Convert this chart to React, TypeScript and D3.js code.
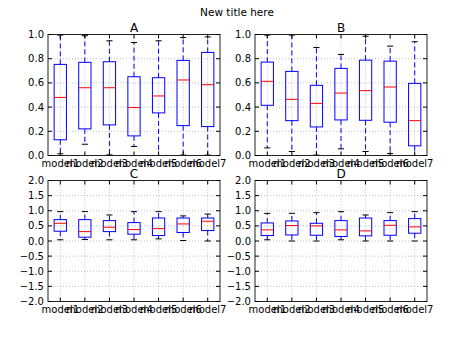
import React, { useEffect, useRef } from "react";
import * as d3 from "d3";

const categories = ["model1", "model2", "model3", "model4", "model5", "model6", "model7"];
const panelTitles = ["A", "B", "C", "D"];
const figTitle = "New title here";

// each entry: [lowerWhisker, q1, median, q3, upperWhisker]
const boxesA = [
  [0.014, 0.13, 0.48, 0.753, 0.995],
  [0.093, 0.22, 0.56, 0.77, 0.99],
  [0.005, 0.253, 0.56, 0.775, 0.948],
  [0.074, 0.162, 0.396, 0.651, 0.934],
  [0.0, 0.352, 0.492, 0.643, 0.948],
  [0.003, 0.247, 0.624, 0.786, 0.975],
  [0.003, 0.239, 0.585, 0.852, 0.98],
];
const boxesB = [
  [0.063, 0.415, 0.613, 0.772, 0.995],
  [0.033, 0.288, 0.464, 0.695, 0.995],
  [0.003, 0.236, 0.431, 0.58, 0.893],
  [0.055, 0.294, 0.516, 0.72, 0.835],
  [0.033, 0.291, 0.536, 0.788, 0.986],
  [0.016, 0.275, 0.566, 0.78, 0.904],
  [0.0, 0.08, 0.288, 0.596, 0.94],
];
const boxesC = [
  [0.04, 0.323, 0.586, 0.707, 0.97],
  [0.05, 0.126, 0.31, 0.707, 0.97],
  [0.04, 0.31, 0.455, 0.674, 0.86],
  [0.04, 0.225, 0.378, 0.608, 0.97],
  [0.07, 0.18, 0.41, 0.76, 0.97],
  [0.016, 0.28, 0.564, 0.76, 0.83],
  [0.0, 0.345, 0.652, 0.76, 0.89],
];
const boxesD = [
  [0.04, 0.18, 0.367, 0.597, 0.915],
  [0.0, 0.2, 0.51, 0.663, 0.915],
  [0.0, 0.19, 0.5, 0.586, 0.937],
  [0.04, 0.148, 0.367, 0.674, 0.97],
  [0.0, 0.17, 0.334, 0.76, 0.86],
  [0.0, 0.19, 0.52, 0.674, 0.937],
  [0.0, 0.257, 0.466, 0.74, 0.97],
];
const ticksTop = [0.0, 0.2, 0.4, 0.6, 0.8, 1.0];
const ticksBottom = [-2.0, -1.5, -1.0, -0.5, 0.0, 0.5, 1.0, 1.5, 2.0];

const W = 474;
const H = 355;
const FONT = "DejaVu Sans, sans-serif";

export default function App() {
  const ref = useRef<SVGSVGElement | null>(null);

  useEffect(() => {
    const svg = d3.select(ref.current);
    svg.selectAll("*").remove();
    svg.append("rect").attr("width", W).attr("height", H).attr("fill", "#fff");

    svg.append("text")
      .attr("x", 237).attr("y", 16)
      .attr("text-anchor", "middle")
      .attr("font-family", FONT).attr("font-size", 10.5)
      .attr("fill", "#000")
      .text(figTitle);

    const panels = [
      { data: boxesA, title: panelTitles[0], x0: 48, x1: 220, y0: 34.5, y1: 155.5, dom: [0, 1], ticks: ticksTop },
      { data: boxesB, title: panelTitles[1], x0: 255, x1: 427, y0: 34.5, y1: 155.5, dom: [0, 1], ticks: ticksTop },
      { data: boxesC, title: panelTitles[2], x0: 48, x1: 220, y0: 180.5, y1: 301.5, dom: [-2, 2], ticks: ticksBottom },
      { data: boxesD, title: panelTitles[3], x0: 255, x1: 427, y0: 180.5, y1: 301.5, dom: [-2, 2], ticks: ticksBottom },
    ];

    panels.forEach((p) => {
      const g = svg.append("g");
      const x = d3.scaleLinear().domain([0.5, categories.length + 0.5]).range([p.x0, p.x1]);
      const y = d3.scaleLinear().domain(p.dom).range([p.y1, p.y0]);
      const pos = categories.map((_, i) => i + 1);

      // grid
      p.ticks.forEach((t) => {
        g.append("line")
          .attr("x1", p.x0).attr("x2", p.x1)
          .attr("y1", y(t)).attr("y2", y(t))
          .attr("stroke", "#000").attr("stroke-opacity", 0.35)
          .attr("stroke-width", 0.7).attr("stroke-dasharray", "1,2");
      });
      pos.forEach((v) => {
        g.append("line")
          .attr("x1", x(v)).attr("x2", x(v))
          .attr("y1", p.y0).attr("y2", p.y1)
          .attr("stroke", "#000").attr("stroke-opacity", 0.35)
          .attr("stroke-width", 0.7).attr("stroke-dasharray", "1,2");
      });

      // boxes
      p.data.forEach((d, i) => {
        const cx = x(pos[i]);
        const bw = x(pos[i] + 0.25) - cx;
        const cw = x(pos[i] + 0.125) - cx;
        const [lo, q1, med, q3, hi] = d;
        g.append("line").attr("x1", cx).attr("x2", cx).attr("y1", y(q3)).attr("y2", y(hi))
          .attr("stroke", "#0000ff").attr("stroke-width", 1).attr("stroke-dasharray", "5,3");
        g.append("line").attr("x1", cx).attr("x2", cx).attr("y1", y(q1)).attr("y2", y(lo))
          .attr("stroke", "#0000ff").attr("stroke-width", 1).attr("stroke-dasharray", "5,3");
        g.append("line").attr("x1", cx - cw).attr("x2", cx + cw).attr("y1", y(hi)).attr("y2", y(hi))
          .attr("stroke", "#000").attr("stroke-width", 1);
        g.append("line").attr("x1", cx - cw).attr("x2", cx + cw).attr("y1", y(lo)).attr("y2", y(lo))
          .attr("stroke", "#000").attr("stroke-width", 1);
        g.append("rect")
          .attr("x", cx - bw).attr("width", 2 * bw)
          .attr("y", y(q3)).attr("height", y(q1) - y(q3))
          .attr("fill", "none").attr("stroke", "#0000ff").attr("stroke-width", 1);
        g.append("line").attr("x1", cx - bw).attr("x2", cx + bw).attr("y1", y(med)).attr("y2", y(med))
          .attr("stroke", "#ff0000").attr("stroke-width", 1);
      });

      // frame
      g.append("rect")
        .attr("x", p.x0).attr("y", p.y0)
        .attr("width", p.x1 - p.x0).attr("height", p.y1 - p.y0)
        .attr("fill", "none").attr("stroke", "#222").attr("stroke-width", 1);

      // ticks (inward, all sides)
      p.ticks.forEach((t) => {
        g.append("line").attr("x1", p.x0).attr("x2", p.x0 + 4).attr("y1", y(t)).attr("y2", y(t)).attr("stroke", "#000");
        g.append("line").attr("x1", p.x1).attr("x2", p.x1 - 4).attr("y1", y(t)).attr("y2", y(t)).attr("stroke", "#000");
        g.append("text")
          .attr("x", p.x0 - 4).attr("y", y(t)).attr("dy", "0.35em")
          .attr("text-anchor", "end")
          .attr("font-family", FONT).attr("font-size", 10).attr("fill", "#000")
          .text(d3.format(".1f")(t).replace("-", "\u2212"));
      });
      pos.forEach((v, i) => {
        g.append("line").attr("x1", x(v)).attr("x2", x(v)).attr("y1", p.y1).attr("y2", p.y1 - 4).attr("stroke", "#000");
        g.append("line").attr("x1", x(v)).attr("x2", x(v)).attr("y1", p.y0).attr("y2", p.y0 + 4).attr("stroke", "#000");
        g.append("text")
          .attr("x", x(v)).attr("y", p.y1 + 11)
          .attr("text-anchor", "middle")
          .attr("font-family", FONT).attr("font-size", 10).attr("fill", "#000")
          .text(categories[i]);
      });

      g.append("text")
        .attr("x", (p.x0 + p.x1) / 2).attr("y", p.y0 - 3)
        .attr("text-anchor", "middle")
        .attr("font-family", FONT).attr("font-size", 12).attr("fill", "#000")
        .text(p.title);
    });
  }, []);

  return (
    <svg ref={ref} width={W} height={H} style={{ position: "absolute", left: 0, top: 0, display: "block" }} />
  );
}
